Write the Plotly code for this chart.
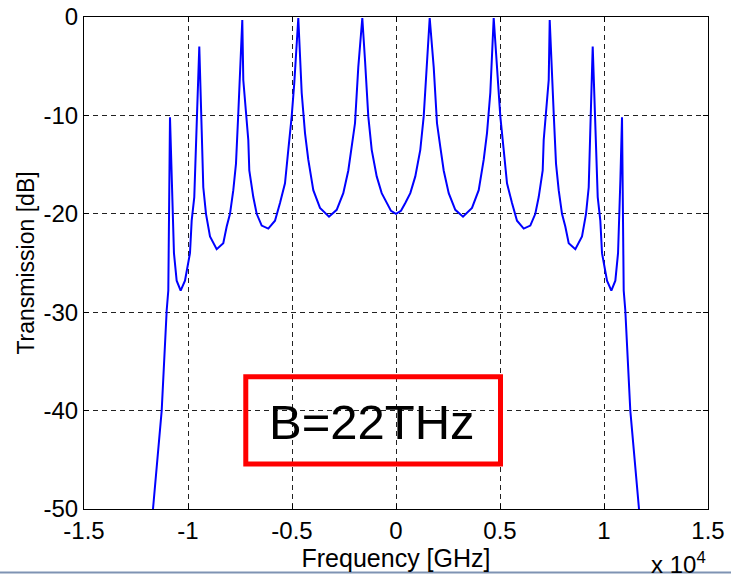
import plotly.graph_objects as go

# Frequency [GHz] and transmission [dB]
freq_ghz = [
    -11683, -11265, -11024, -10947, -10866, -10787, -10675, -10545, -10353, -10145,
    -9905, -9823, -9698, -9568, -9457, -9342, -9265, -9135, -8943, -8621,
    -8304, -8140, -7981, -7822, -7693, -7582, -7390, -7342, -7101, -7053,
    -6861, -6698, -6457, -6140, -5818, -5577, -5337, -5178, -5015, -4890,
    -4697, -4534, -4375, -4217, -3976, -3654, -3221, -2851, -2534, -2293,
    -2130, -1971, -1813, -1620, -1490, -1332, -1168, -928, -688, -447,
    -240, 0,
    240, 447, 688, 928, 1168, 1332, 1490, 1620, 1813, 1971,
    2130, 2293, 2534, 2851, 3221, 3654, 3976, 4217, 4375, 4534,
    4697, 4890, 5015, 5178, 5337, 5577, 5818, 6140, 6457, 6698,
    6861, 7053, 7101, 7342, 7390, 7582, 7693, 7822, 7981, 8140,
    8304, 8621, 8943, 9135, 9265, 9342, 9457, 9568, 9698, 9823,
    9905, 10145, 10353, 10545, 10675, 10787, 10866, 10947, 11024, 11265,
    11683,
]
transmission_db = [
    -50.0, -40.0, -29.8, -27.8, -10.2, -16.6, -24.0, -26.8, -27.8, -26.8,
    -24.0, -20.7, -18.3, -10.0, -3.0, -11.5, -17.3, -20.0, -22.3, -23.6,
    -23.0, -21.3, -20.0, -17.6, -14.9, -9.8, -0.3, -6.4, -12.5, -15.6,
    -18.3, -20.0, -21.2, -21.5, -20.7, -18.9, -16.9, -13.5, -10.1, -6.7,
    -0.1, -7.7, -11.8, -14.5, -17.6, -19.4, -20.3, -19.6, -17.9, -15.6,
    -13.2, -10.8, -5.1, -0.1, -4.4, -10.1, -13.5, -16.2, -17.9, -18.9,
    -19.7, -20.0,
    -19.7, -18.9, -17.9, -16.2, -13.5, -10.1, -4.4, -0.1, -5.1, -10.8,
    -13.2, -15.6, -17.9, -19.6, -20.3, -19.4, -17.6, -14.5, -11.8, -7.7,
    -0.1, -6.7, -10.1, -13.5, -16.9, -18.9, -20.7, -21.5, -21.2, -20.0,
    -18.3, -15.6, -12.5, -6.4, -0.3, -9.8, -14.9, -17.6, -20.0, -21.3,
    -23.0, -23.6, -22.3, -20.0, -17.3, -11.5, -3.0, -10.0, -18.3, -20.7,
    -24.0, -26.8, -27.8, -26.8, -24.0, -16.6, -10.2, -27.8, -29.8, -40.0,
    -50.0,
]

x_tick_vals = [-15000, -10000, -5000, 0, 5000, 10000, 15000]
x_tick_text = ["-1.5", "-1", "-0.5", "0", "0.5", "1", "1.5"]
y_tick_vals = [0, -10, -20, -30, -40, -50]
y_tick_text = ["0", "-10", "-20", "-30", "-40", "-50"]

label_text = "B=22THz"

FONT = "Arial, Liberation Sans, sans-serif"

fig = go.Figure()
fig.add_trace(go.Scatter(
    x=freq_ghz, y=transmission_db, mode="lines",
    line=dict(color="#0000ff", width=2),
    showlegend=False, hoverinfo="skip",
))

axis_common = dict(
    showline=True, linecolor="#000000", linewidth=1, mirror="ticks",
    ticks="inside", ticklen=5, tickcolor="#000000",
    showgrid=True, gridcolor="#222222", gridwidth=1, griddash="5px,4px",
    zeroline=False, automargin=False,
    tickfont=dict(family=FONT, size=24, color="#000000"),
)

fig.update_xaxes(
    range=[-15000, 15000], tickvals=x_tick_vals, ticktext=x_tick_text,
    title=dict(text="Frequency [GHz]", font=dict(family=FONT, size=25, color="#000000"), standoff=0),
    **axis_common,
)
fig.update_yaxes(
    range=[-50, 0], tickvals=y_tick_vals, ticktext=y_tick_text,
    title=dict(text="Transmission [dB]", font=dict(family=FONT, size=23, color="#000000"), standoff=2),
    **axis_common,
)

# red label box
fig.add_shape(type="rect", xref="x", yref="y",
              x0=-7222, x1=5024, y0=-36.57, y1=-45.42,
              line=dict(color="#ff0000", width=5), fillcolor="rgba(0,0,0,0)")
fig.add_annotation(x=-1178, y=-41.2, xref="x", yref="y", text=label_text,
                   showarrow=False, font=dict(family=FONT, size=49, color="#000000"))

# exponent label
fig.add_annotation(x=1.0, y=-0.076, xref="paper", yref="paper", xanchor="right", yanchor="top",
                   text="x 10<sup>4</sup>", showarrow=False,
                   font=dict(family=FONT, size=24, color="#000000"))

# bottom border strip of the original image
fig.add_shape(type="line", xref="paper", yref="paper", x0=-0.2, x1=1.2,
              y0=-0.129, y1=-0.129, line=dict(color="#7f93b3", width=2))

fig.update_layout(
    template="none",
    width=731, height=574,
    margin=dict(l=84, r=23, t=17, b=65),
    paper_bgcolor="#ffffff", plot_bgcolor="#ffffff",
    font=dict(family=FONT, color="#000000"),
)

fig.write_html("out.html", config={"displayModeBar": False},
               post_script="document.body.style.margin='0';document.body.style.overflow='hidden';")
